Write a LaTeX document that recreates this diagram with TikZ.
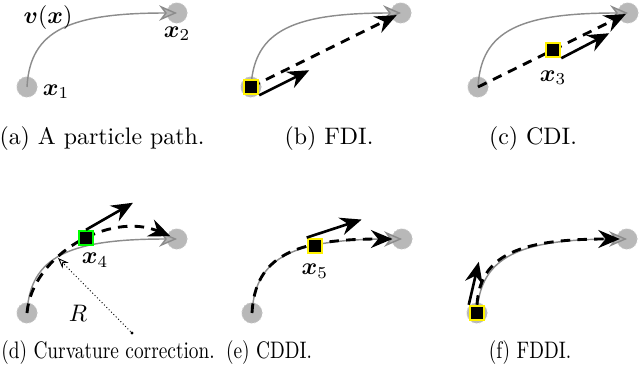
\documentclass[tikz,border=0pt]{standalone}
\usepackage{amsmath, amssymb}
\usetikzlibrary{arrows.meta, positioning}

\begin{document}
\begin{tikzpicture}[
        x=0.419pt, y=-0.419pt,
        particle/.style={circle, fill=black!28, draw=black!18, densely dotted, thin, minimum size=8.6pt, inner sep=0pt},
        truepath/.style={draw=black!45, line width=0.6pt, -{Stealth[length=7.5pt, width=6.5pt, inset=2.5pt, fill=black!30]}},
        estim/.style={draw=black, line width=1.2pt, dash pattern=on 4pt off 3pt, -{Stealth[length=9pt, width=7.5pt, inset=3pt]}},
        vel/.style={draw=black, line width=1.1pt, -{Stealth[length=9pt, width=7.5pt, inset=3pt]}},
        probe/.style={rectangle, fill=black, draw=yellow, line width=0.9pt, minimum size=6pt, inner sep=0pt},
        radius/.style={draw=black, densely dotted, thin, -{Stealth[open, length=4.5pt, width=3.5pt, fill=white]}},
        dot/.style={circle, fill=black, inner sep=0pt, minimum size=1.3pt},
        lbl/.style={inner sep=1pt},
        caption/.style={inner sep=0pt}
    ]
        \useasboundingbox (0,0) rectangle (640,371);
        % particles and true path in every panel
        \foreach \p/\dx/\dy in {a/0/0, b/224/0, c/451/0, d/0/226, e/225/226, f/450/226}{
            \begin{scope}[shift={(\dx,\dy)}]
                \node[particle] (\p1) at (27,87) {};
                \node[particle] (\p2) at (177,13) {};
                \draw[truepath] (\p1.center) .. controls +(3,-57) and +(-107,0) .. (\p2.center);
            \end{scope}
        }

        % (a) particle path
        \node[lbl] at (48,18) {$\boldsymbol{v}(\boldsymbol{x})$};
        \node[lbl, right=1pt of a1, yshift=-2pt] {$\boldsymbol{x}_1$};
        \node[lbl, below=0pt of a2] {$\boldsymbol{x}_2$};

        % (b) FDI
        \draw[estim, shorten >=2pt] (b1.center) -- (b2.center);
        \node[probe] (bq) at (b1) {};
        \path (bq.south east) ++(50,-25) coordinate (bv);
        \draw[vel] (bq.south east) -- (bv);

        % (c) CDI
        \draw[estim, shorten >=1pt] (c1.center) -- (c2.center);
        \path (c1) -- node[probe] (cq) {} (c2);
        \node[lbl, below=4pt of cq] {$\boldsymbol{x}_3$};
        \path (cq.south east) ++(48,-25) coordinate (cv);
        \draw[vel] (cq.south east) -- (cv);

        % (d) curvature correction
        \draw[estim, shorten >=3pt] (d1.center) .. controls +(5,-58) and +(-67,-28) .. (d2.center);
        \node[probe, draw=green] (dq) at (86,238) {};
        \node[lbl] at (95,260) {$\boldsymbol{x}_4$};
        \path (dq.north) ++(47,-27) coordinate (dv);
        \draw[vel] (dq.north) -- (dv);
        \node[dot] (rc) at (132,333) {};
        \coordinate (rp) at (58,258);
        \draw[radius] (rc) -- (rp);
        \node[lbl] at (78,313) {$R$};

        % (e) CDDI
        \draw[estim, shorten >=4pt] (e1.center) .. controls +(3,-57) and +(-107,0) .. (e2.center);
        \path (e1.center) .. controls +(3,-57) and +(-107,0) .. (e2.center) node[probe, pos=0.66] (eq) {};
        \node[lbl, below=3pt of eq] {$\boldsymbol{x}_5$};
        \path (eq.north west) ++(55,-18) coordinate (ev);
        \draw[vel] (eq.north west) -- (ev);

        % (f) FDDI
        \node[probe] (fq) at (f1) {};
        \draw[estim, shorten >=3pt] (fq.north) .. controls +(3,-50) and +(-107,0) .. (f2.center);
        \path (fq.north west) ++(10,-43) coordinate (fv);
        \draw[vel] (fq.north west) -- (fv);

        % captions
        \node[caption] at (102,139) {(a) A particle path.};
        \node[caption] at (329,139) {(b) FDI.};
        \node[caption] at (533,139) {(c) CDI.};
        \node[caption] at (108,353) {\scalebox{0.81}[1]{(d) Curvature correction.}};
        \node[caption] at (269,353) {\scalebox{0.81}[1]{(e) CDDI.}};
        \node[caption] at (530,353) {\scalebox{0.81}[1]{(f) FDDI.}};
    \end{tikzpicture}
\end{document}
